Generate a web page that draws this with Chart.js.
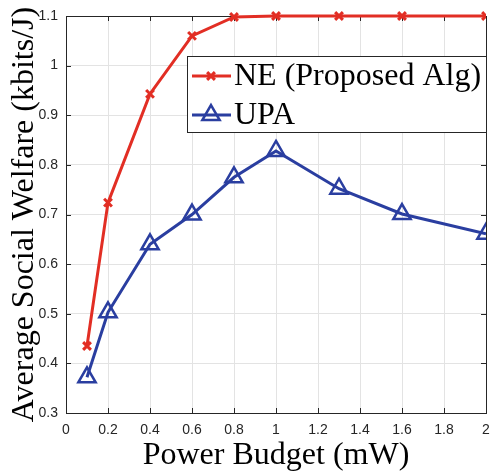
<!DOCTYPE html>
<html>
<head>
<meta charset="utf-8">
<script src="https://cdn.jsdelivr.net/npm/chart.js@4/dist/chart.umd.min.js"></script>
<style>
  html, body { margin: 0; padding: 0; background: #fff; }
  #wrap { width: 491px; height: 475px; }
</style>
</head>
<body>
<div id="wrap"><canvas id="c" width="491" height="475"></canvas></div>
<script>
// Power budget (mW) sample points
const budgets = [0.1, 0.2, 0.4, 0.6, 0.8, 1.0, 1.3, 1.6, 2.0];
// Average social welfare (kbits/J)
const neWelfare  = [0.435, 0.724, 0.943, 1.060, 1.098, 1.100, 1.100, 1.100, 1.100];
const upaWelfare = [0.372, 0.503, 0.640, 0.700, 0.775, 0.828, 0.752, 0.701, 0.661];
const seriesNames = ['NE (Proposed Alg)', 'UPA'];
const xTitle = 'Power Budget (mW)';
const yTitle = 'Average Social Welfare (kbits/J)';

const RED = 'rgb(226,46,36)';
const BLUE = 'rgb(42,62,160)';
const AXIS = '#262626';
const SERIF = '"Liberation Serif", "Times New Roman", serif';
const SANS = '"Liberation Sans", Arial, sans-serif';

const toPoints = (xs, ys) => xs.map((x, i) => ({ x: x, y: ys[i] }));

// Box outline with inward ticks (under the lines), legend on top
const framePlugin = {
  id: 'frame',
  beforeDatasetsDraw(chart) {
    const { ctx, chartArea: a, scales } = chart;
    ctx.save();
    ctx.strokeStyle = AXIS;
    ctx.lineWidth = 1;
    ctx.strokeRect(Math.round(a.left) + 0.5, Math.round(a.top) + 0.5,
                   Math.round(a.right - a.left), Math.round(a.bottom - a.top));
    const tl = 5;
    ctx.beginPath();
    scales.x.ticks.forEach(t => {
      const px = Math.round(scales.x.getPixelForValue(t.value)) + 0.5;
      ctx.moveTo(px, a.bottom); ctx.lineTo(px, a.bottom - tl);
      ctx.moveTo(px, a.top); ctx.lineTo(px, a.top + tl);
    });
    scales.y.ticks.forEach(t => {
      const py = Math.round(scales.y.getPixelForValue(t.value)) + 0.5;
      ctx.moveTo(a.left, py); ctx.lineTo(a.left + tl, py);
      ctx.moveTo(a.right, py); ctx.lineTo(a.right - tl, py);
    });
    ctx.stroke();
    ctx.restore();
  },
  afterDatasetsDraw(chart) {
    const { ctx } = chart;
    ctx.save();
    const lx = 187, ly = 56, lw = 299, lh = 76;
    ctx.fillStyle = '#fff';
    ctx.fillRect(lx, ly, lw, lh);
    ctx.strokeStyle = AXIS;
    ctx.lineWidth = 1;
    ctx.strokeRect(lx + 0.5, ly + 0.5, lw, lh);
    const rows = [
      { ds: chart.data.datasets[0], y: 76 },
      { ds: chart.data.datasets[1], y: 115 }
    ];
    rows.forEach(r => {
      ctx.strokeStyle = r.ds.borderColor;
      ctx.lineWidth = 3;
      ctx.beginPath();
      ctx.moveTo(192, r.y); ctx.lineTo(231, r.y);
      ctx.stroke();
      ctx.fillStyle = r.ds.pointBackgroundColor;
      ctx.strokeStyle = r.ds.pointBorderColor;
      ctx.lineWidth = r.ds.pointBorderWidth;
      Chart.helpers.drawPoint(ctx, {
        pointStyle: r.ds.pointStyle,
        radius: r.ds.pointRadius,
        borderWidth: r.ds.pointBorderWidth,
        rotation: 0
      }, 211, r.y);
      ctx.fillStyle = '#000';
      ctx.font = '32px ' + SERIF;
      ctx.textBaseline = 'middle';
      ctx.textAlign = 'left';
      ctx.fillText(r.ds.label, 234, r.y + 1);
    });
    ctx.restore();
  }
};

new Chart(document.getElementById('c'), {
  type: 'line',
  data: {
    datasets: [
      {
        label: seriesNames[0],
        data: toPoints(budgets, neWelfare),
        borderColor: RED,
        backgroundColor: RED,
        borderWidth: 3,
        pointStyle: 'crossRot',
        pointRadius: 5.5,
        pointBorderWidth: 3,
        pointBorderColor: RED,
        pointBackgroundColor: RED,
        tension: 0,
        clip: { left: 0, right: 0, top: 8, bottom: 0 }
      },
      {
        label: seriesNames[1],
        data: toPoints(budgets, upaWelfare),
        borderColor: BLUE,
        backgroundColor: '#fff',
        borderWidth: 3,
        pointStyle: 'triangle',
        pointRadius: 10,
        pointBorderWidth: 2.5,
        pointBorderColor: BLUE,
        pointBackgroundColor: 'rgba(255,255,255,0)',
        tension: 0
      }
    ]
  },
  options: {
    responsive: false,
    animation: false,
    events: [],
    layout: { autoPadding: false, padding: { left: 0, top: 16, right: 5, bottom: 0 } },
    plugins: { legend: { display: false }, tooltip: { enabled: false } },
    scales: {
      x: {
        type: 'linear',
        min: 0, max: 2,
        ticks: {
          stepSize: 0.2,
          color: AXIS,
          font: { family: SANS, size: 14 },
          padding: 9,
          maxRotation: 0,
          callback: v => String(Math.round(v * 10) / 10)
        },
        grid: { color: '#e3e3e3', drawTicks: false },
        border: { color: AXIS, width: 1 },
        title: {
          display: true,
          text: xTitle,
          color: '#000',
          font: { family: SERIF, size: 32, lineHeight: 1.2 },
          padding: { top: 0, bottom: 0 }
        },
        afterFit: s => { s.height = 62; s.paddingLeft = 0; s.paddingRight = 0; }
      },
      y: {
        type: 'linear',
        min: 0.3, max: 1.1,
        ticks: {
          stepSize: 0.1,
          color: AXIS,
          font: { family: SANS, size: 14 },
          padding: 8,
          callback: v => String(Math.round(v * 10) / 10)
        },
        grid: { color: '#e3e3e3', drawTicks: false },
        border: { color: AXIS, width: 1 },
        title: {
          display: true,
          text: yTitle,
          color: '#000',
          font: { family: SERIF, size: 32, lineHeight: 1.2 },
          padding: { top: 5, bottom: 0 }
        },
        afterFit: s => { s.width = 66; s.paddingTop = 0; s.paddingBottom = 0; }
      }
    }
  },
  plugins: [framePlugin]
});
</script>
</body>
</html>
